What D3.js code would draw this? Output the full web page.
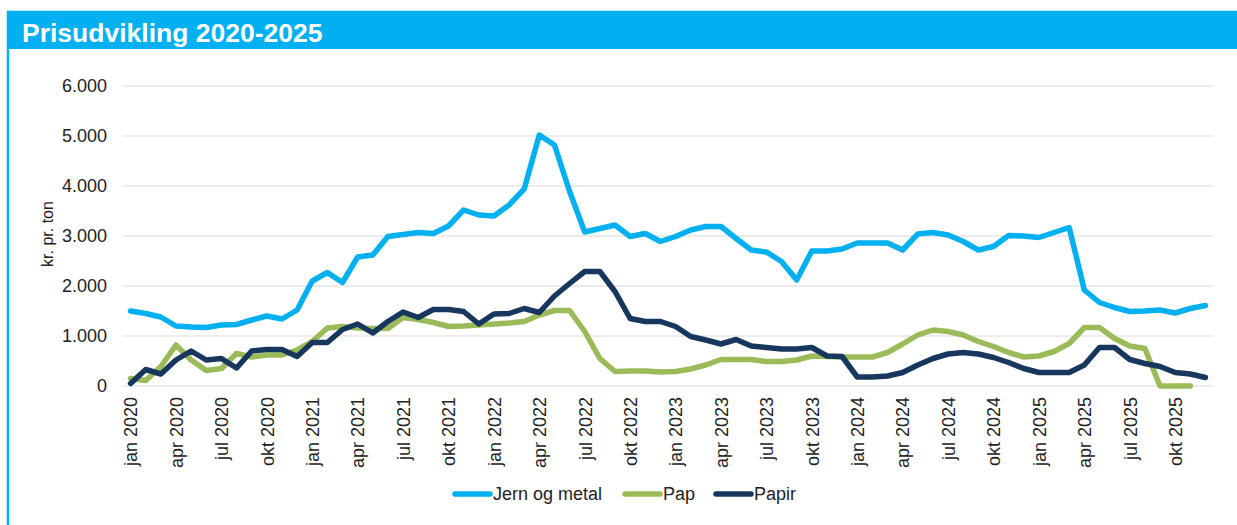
<!DOCTYPE html>
<html>
<head>
<meta charset="utf-8">
<script src="https://cdn.jsdelivr.net/npm/d3@7"></script>
<style>
  body { margin: 0; background: #fff; font-family: "Liberation Sans", Arial, sans-serif; }
</style>
</head>
<body>
<div id="chart"></div>
<script>
// Data
const monthNames = ["jan", "feb", "mar", "apr", "maj", "jun", "jul", "aug", "sep", "okt", "nov", "dec"];
const years = [2020, 2021, 2022, 2023, 2024, 2025];
const months = [];
years.forEach(y => monthNames.forEach(m => months.push(`${m} ${y}`)));

const jernOgMetal = [
  1500, 1450, 1380, 1200, 1180, 1170, 1220, 1230, 1320, 1400, 1340, 1520,
  2100, 2270, 2070, 2580, 2620, 2990, 3030, 3070, 3050, 3200, 3520, 3420,
  3400, 3620, 3940, 5020, 4820, 3890, 3080, 3150, 3220, 2990, 3050, 2890,
  2990, 3120, 3190, 3190, 2950, 2720, 2680, 2490, 2120, 2700, 2700, 2740,
  2860, 2860, 2860, 2720, 3040, 3070, 3020, 2890, 2720, 2790, 3010, 3000,
  2970, 3070, 3170, 1920, 1670, 1570, 1490, 1500, 1520, 1460, 1550, 1610
];
const pap = [
  150, 110, 390, 820, 520, 310, 350, 650, 580, 620, 620, 720,
  890, 1160, 1190, 1160, 1150, 1150, 1370, 1330, 1270, 1190, 1200, 1220,
  1240, 1260, 1290, 1420, 1510, 1510, 1090, 550, 290, 300, 300, 280,
  290, 340, 420, 530, 530, 530, 490, 490, 520, 600, 590, 580,
  580, 580, 670, 840, 1020, 1120, 1090, 1020, 890, 790, 670, 580,
  600, 690, 850, 1170, 1170, 950, 800, 750, 0, 0, 0, null
];
const papir = [
  50, 330, 240, 520, 700, 520, 550, 360, 700, 730, 730, 590,
  870, 870, 1130, 1240, 1060, 1290, 1480, 1370, 1530, 1530, 1490, 1240,
  1440, 1450, 1550, 1470, 1800, 2050, 2290, 2290, 1890, 1350, 1290, 1290,
  1190, 990, 920, 840, 930, 800, 770, 740, 740, 770, 600, 590,
  180, 180, 200, 270, 420, 550, 640, 670, 640, 570, 470, 350,
  270, 270, 270, 420, 770, 770, 530, 450, 390, 270, 240, 170
];
const yTicks = [0, 1000, 2000, 3000, 4000, 5000, 6000];

const series = [
  { name: "Jern og metal", values: jernOgMetal, color: "#00b0f0" },
  { name: "Pap", values: pap, color: "#9bbb59" },
  { name: "Papir", values: papir, color: "#17375e" }
];

// Set up the svg
const width = 1237, height = 525;
const svg = d3.select("#chart")
  .append("svg")
  .attr("width", width)
  .attr("height", height);

// Frame and title bar
svg.append("rect")
  .attr("x", 8).attr("y", 12)
  .attr("width", width + 10).attr("height", height)
  .attr("fill", "#fff")
  .attr("stroke", "#00b0f0")
  .attr("stroke-width", 2.5);

svg.append("rect")
  .attr("x", 7).attr("y", 11)
  .attr("width", width).attr("height", 38)
  .attr("fill", "#00b0f0");

svg.append("text")
  .attr("x", 22).attr("y", 42)
  .attr("fill", "#fff")
  .style("font-size", "26.5px")
  .style("font-weight", "bold")
  .text("Prisudvikling 2020-2025");

// Scales
const xScale = d3.scalePoint()
  .domain(months)
  .range([123, 1213])
  .padding(0.5);

const yScale = d3.scaleLinear()
  .domain([0, 6000])
  .range([386, 86]);

const daFormat = d3.formatLocale({ decimal: ",", thousands: ".", grouping: [3], currency: ["", " kr"] }).format(",");

// Gridlines
svg.append("g")
  .selectAll("line")
  .data(yTicks)
  .enter()
  .append("line")
  .attr("x1", 123).attr("x2", 1213)
  .attr("y1", d => yScale(d)).attr("y2", d => yScale(d))
  .attr("stroke", "#d9d9d9")
  .attr("stroke-width", 1);

// Y axis
const yAxis = svg.append("g")
  .attr("transform", "translate(107,0)")
  .call(d3.axisLeft(yScale).tickValues(yTicks).tickSize(0).tickFormat(daFormat));
yAxis.select(".domain").remove();
yAxis.selectAll("text")
  .attr("x", 0)
  .style("font-size", "18px")
  .style("font-family", "Liberation Sans, Arial, sans-serif")
  .attr("fill", "#222");

svg.append("text")
  .attr("transform", "rotate(-90)")
  .attr("x", -234)
  .attr("y", 53)
  .style("text-anchor", "middle")
  .style("font-size", "16px")
  .attr("fill", "#222")
  .text("kr. pr. ton");

// X axis
const xAxis = svg.append("g")
  .attr("transform", "translate(0,386)")
  .call(d3.axisBottom(xScale).tickValues(months.filter((d, i) => i % 3 === 0)).tickSize(0));
xAxis.select(".domain").remove();
xAxis.selectAll("text")
  .attr("transform", "rotate(-90)")
  .attr("x", -11)
  .attr("y", 0)
  .attr("dy", "0.35em")
  .style("text-anchor", "end")
  .style("font-size", "18px")
  .style("font-family", "Liberation Sans, Arial, sans-serif")
  .attr("fill", "#222");

// Lines
const line = d3.line()
  .defined(d => d != null)
  .x((d, i) => xScale(months[i]))
  .y(d => yScale(d));

svg.append("g")
  .selectAll("path")
  .data(series)
  .enter()
  .append("path")
  .attr("d", d => line(d.values))
  .attr("fill", "none")
  .attr("stroke", d => d.color)
  .attr("stroke-width", 5.5)
  .attr("stroke-linejoin", "round")
  .attr("stroke-linecap", "round");

// Legend
const legendX = [452, 622, 713];
const legend = svg.append("g")
  .selectAll("g")
  .data(series)
  .enter()
  .append("g")
  .attr("transform", (d, i) => `translate(${legendX[i]},494)`);

legend.append("line")
  .attr("x1", 3).attr("x2", 38)
  .attr("y1", 0).attr("y2", 0)
  .attr("stroke", d => d.color)
  .attr("stroke-width", 5.5)
  .attr("stroke-linecap", "round");

legend.append("text")
  .attr("x", 41)
  .attr("y", 0)
  .attr("dy", "0.35em")
  .style("font-size", "18px")
  .attr("fill", "#222")
  .text(d => d.name);
</script>
</body>
</html>
